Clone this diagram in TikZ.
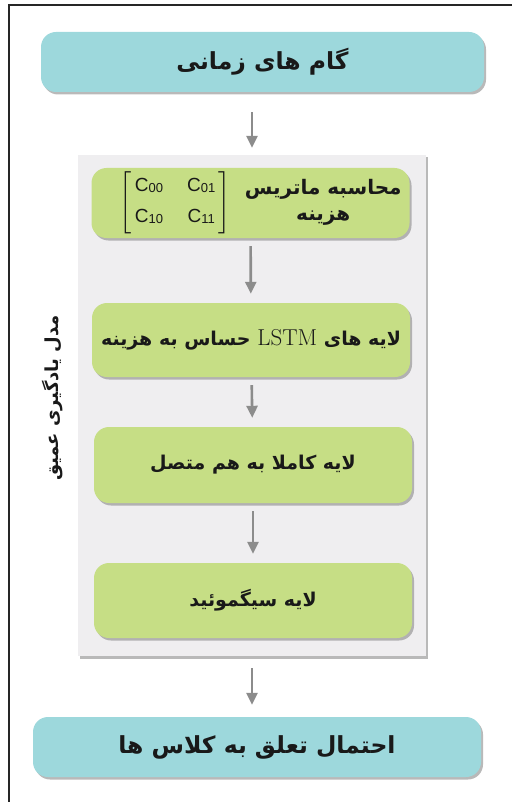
\documentclass[tikz,border=0pt]{standalone}
\usepackage{fontspec}
\usepackage{amsmath}
\usepackage{xcolor}
\usetikzlibrary{arrows.meta,shadows}
\newfontfamily\arabicfont[Script=Arabic]{DejaVu Sans}
\newfontfamily\latinsans{Liberation Sans}
\TeXXeTstate=1
\definecolor{stepteal}{HTML}{9DD8DC}
\definecolor{layergreen}{HTML}{C6DE85}
\definecolor{panelgray}{HTML}{EFEEF0}
\definecolor{arrowgray}{HTML}{8C8C8C}
\newcommand{\fa}[1]{{\arabicfont\bfseries\beginR #1\endR}}
\newcommand{\cost}[1]{{\latinsans\fontsize{19}{22}\selectfont C\raisebox{-1pt}{\fontsize{13}{15}\selectfont #1}}}

\begin{document}
\begin{tikzpicture}[x=1pt, y=-1pt,
    every node/.style={align=center, text=black!90, inner sep=0pt},
    soft/.style={drop shadow={shadow xshift=2pt, shadow yshift=-2.5pt, opacity=0.55}},
    io/.style={soft, rounded corners=15pt, fill=stepteal, minimum height=60pt,
        font=\fontsize{23.5}{27}\selectfont},
    layer/.style={soft, rounded corners=15pt, fill=layergreen, minimum width=318pt,
        font=\fontsize{19}{23}\selectfont},
    flow/.style={arrowgray, line width=2.6pt, -{Triangle[width=11pt,length=12pt]},
        shorten <=8pt, shorten >=9pt}]
    \useasboundingbox (0,0) rectangle (511,802);
    % frame
    \draw[line width=2pt, black!85] (9,830) -- (9,5) -- (530,5);

    \node (steps) [io, minimum width=443pt] at (262.5,62) {\fa{گام های زمانی}};

    % deep model
    \node (panel) [soft, fill=panelgray, minimum width=348pt, minimum height=501pt] at (252,405.5) {};
    \node (deep) [rotate=90, font=\fontsize{18}{21}\selectfont] at (53,398) {\fa{مدل یادگیری عمیق}};
    \node (cost) [layer, minimum height=70pt] at (250.5,203)
        {\hspace*{20pt}\fontsize{20}{22}\selectfont\delimitershortfall=-6pt
        $\left[\begin{array}{@{\,}c@{\hspace{24pt}}c@{\,}}
            \text{\cost{00}} & \text{\cost{01}}\\[9pt]
            \text{\cost{10}} & \text{\cost{11}}
        \end{array}\right]$\hspace{14pt}%
        \begin{tabular}{@{}c@{}}\fa{محاسبه ماتریس}\\[4pt]\fa{هزینه}\end{tabular}};
    \node (lstm) [layer, minimum height=74pt] at (251,340)
        {\fa{لایه های \beginL{\mdseries\rmfamily\fontsize{23}{26}\selectfont LSTM}\endL{} حساس به هزینه}};
    \node (dense) [layer, minimum height=76pt] at (253,465) {\fa{لایه کاملا به هم متصل}};
    \node (sigmoid) [layer, minimum height=75pt] at (253,600.5) {\fa{لایه سیگموئید}};

    \node (prob) [io, minimum width=448pt] at (257,747) {\fa{احتمال تعلق به کلاس ها}};

    \draw[flow, shorten <=20pt, shorten >=7pt] (panel.north |- steps.south) -- (panel.north);
    \draw[flow] (cost) -- (lstm);
    \draw[flow] (lstm) -- (dense);
    \draw[flow] (dense) -- (sigmoid);
    \draw[flow, shorten <=12pt, shorten >=12pt] (panel.south) -- (panel.south |- prob.north);
\end{tikzpicture}
\end{document}
